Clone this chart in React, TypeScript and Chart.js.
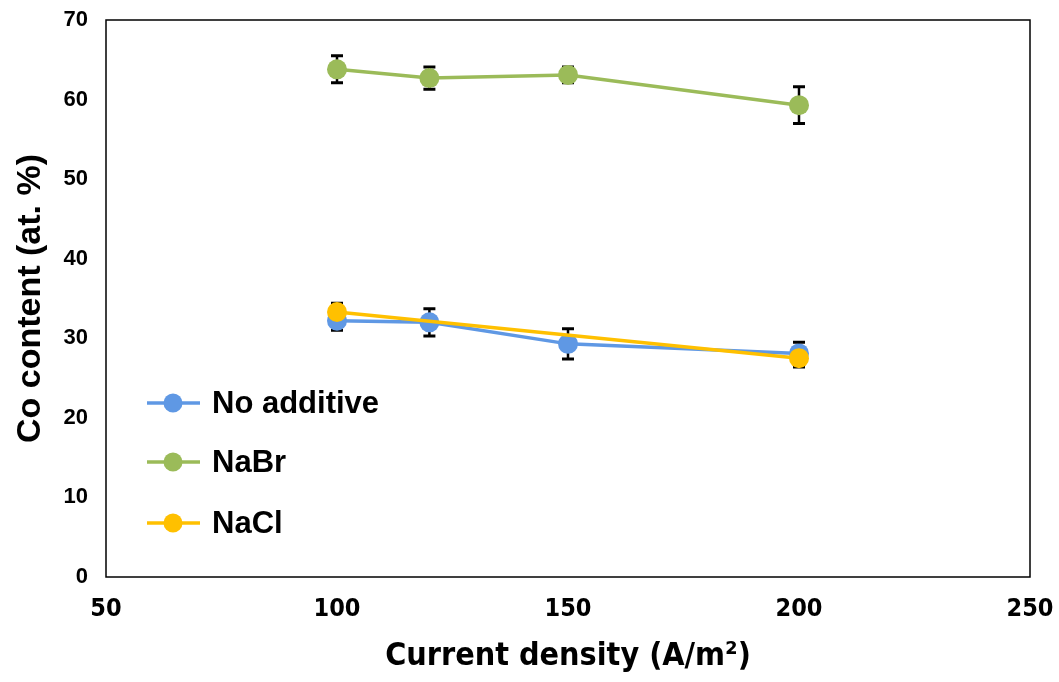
import React, { useEffect, useRef } from "react";
import { Chart, registerables } from "chart.js";

Chart.register(...registerables);

const currentDensity = [100, 120, 150, 200];
const noAdditive = [32.2, 32.0, 29.3, 28.1];
const noAdditiveErr = [1.2, 1.7, 1.9, 1.4];
const naBr = [63.8, 62.7, 63.1, 59.3];
const naBrErr = [1.7, 1.4, 1.0, 2.3];
const naClX = [100, 200];
const naCl = [33.3, 27.5];
const naClErr = [1.1, 1.1];
const xTicks = [50, 100, 150, 200, 250];
const yTicks = [0, 10, 20, 30, 40, 50, 60, 70];

const BLUE = "#5f98e4";
const GREEN = "#9bbb59";
const YELLOW = "#ffc000";

const seriesLegend = [
  { label: "No additive", color: BLUE },
  { label: "NaBr", color: GREEN },
  { label: "NaCl", color: YELLOW },
];

const CONDENSED = "'DejaVu Sans Condensed', 'Liberation Sans Narrow', 'Liberation Sans', Arial";

export default function App() {
  const ref = useRef<HTMLCanvasElement | null>(null);
  useEffect(() => {
    document.body.style.margin = "0";
    const canvas = ref.current!;
    const pts = (xs: number[], ys: number[]) => xs.map((x, i) => ({ x, y: ys[i] }));
    const errs: Record<number, number[]> = { 0: naClErr, 1: noAdditiveErr, 2: naBrErr };

    const errorBars = {
      id: "errorBars",
      beforeDatasetsDraw(chart: any) {
        const ctx = chart.ctx;
        const xs = chart.scales.x;
        const ys = chart.scales.y;
        ctx.save();
        ctx.strokeStyle = "#000";
        ctx.lineWidth = 2.5;
        chart.data.datasets.forEach((ds: any, di: number) => {
          const e = errs[di];
          ds.data.forEach((p: any, i: number) => {
            const px = xs.getPixelForValue(p.x);
            const top = ys.getPixelForValue(p.y + e[i]);
            const bot = ys.getPixelForValue(p.y - e[i]);
            ctx.beginPath();
            ctx.moveTo(px, top);
            ctx.lineTo(px, bot);
            ctx.stroke();
            ctx.lineWidth = 3;
            ctx.beginPath();
            ctx.moveTo(px - 6, top);
            ctx.lineTo(px + 6, top);
            ctx.moveTo(px - 6, bot);
            ctx.lineTo(px + 6, bot);
            ctx.stroke();
            ctx.lineWidth = 2.5;
          });
        });
        ctx.restore();
      },
    };

    const frameAndLegend = {
      id: "frameAndLegend",
      afterDraw(chart: any) {
        const ctx = chart.ctx;
        const a = chart.chartArea;
        ctx.save();
        ctx.strokeStyle = "#000";
        ctx.lineWidth = 1.5;
        ctx.strokeRect(a.left, a.top, a.right - a.left, a.bottom - a.top);
        const ys0 = [403, 462, 523];
        seriesLegend.forEach((s, i) => {
          const y = ys0[i];
          ctx.strokeStyle = s.color;
          ctx.lineWidth = 3.5;
          ctx.beginPath();
          ctx.moveTo(147, y);
          ctx.lineTo(200, y);
          ctx.stroke();
          ctx.fillStyle = s.color;
          ctx.beginPath();
          ctx.arc(173, y, 9.5, 0, Math.PI * 2);
          ctx.fill();
          ctx.fillStyle = "#000";
          ctx.font = "bold 31px 'Liberation Sans', Arial, sans-serif";
          ctx.textBaseline = "middle";
          ctx.textAlign = "left";
          ctx.fillText(s.label, 212, y + 1);
        });
        ctx.restore();
      },
    };

    const ds = (label: string, data: any[], color: string, order: number) => ({
      label,
      data,
      borderColor: color,
      backgroundColor: color,
      borderWidth: 3.5,
      pointRadius: 10,
      pointBorderWidth: 0,
      order,
    });

    const chart = new Chart(canvas, {
      type: "line",
      data: {
        datasets: [
          ds("NaCl", pts(naClX, naCl), YELLOW, 0),
          ds("No additive", pts(currentDensity, noAdditive), BLUE, 1),
          ds("NaBr", pts(currentDensity, naBr), GREEN, 2),
        ],
      },
      options: {
        animation: false,
        responsive: false,
        layout: { padding: { left: 0, right: 29, top: 20, bottom: 0 } },
        plugins: { legend: { display: false }, tooltip: { enabled: false } },
        scales: {
          x: {
            type: "linear",
            min: 50,
            max: 250,
            afterBuildTicks: (s: any) => {
              s.ticks = xTicks.map((v) => ({ value: v }));
            },
            afterFit: (s: any) => {
              s.height = 105;
              s.paddingLeft = 0;
              s.paddingRight = 0;
            },
            grid: { display: false, drawTicks: false },
            border: { display: false },
            ticks: {
              padding: 17,
              color: "#000",
              font: { family: CONDENSED, weight: "bold", size: 25 },
            },
            title: {
              display: true,
              text: "Current density (A/m²)",
              color: "#000",
              padding: { top: 0, bottom: 6 },
              font: { family: CONDENSED, weight: "bold", size: 32 },
            },
          },
          y: {
            type: "linear",
            min: 0,
            max: 70,
            afterBuildTicks: (s: any) => {
              s.ticks = yTicks.map((v) => ({ value: v }));
            },
            afterFit: (s: any) => {
              s.width = 106;
              s.paddingTop = 0;
              s.paddingBottom = 0;
            },
            grid: { display: false, drawTicks: false },
            border: { display: false },
            ticks: {
              padding: 18,
              color: "#000",
              font: { family: "'Liberation Sans', Arial", weight: "bold", size: 22 },
            },
            title: {
              display: true,
              text: "Co content (at. %)",
              color: "#000",
              padding: { top: 10, bottom: 0 },
              font: { family: "'Liberation Sans', Arial", weight: "bold", size: 34 },
            },
          },
        },
      },
      plugins: [errorBars, frameAndLegend],
    } as any);
    return () => chart.destroy();
  }, []);
  return <canvas ref={ref} width={1059} height={682} style={{ display: "block" }} />;
}
